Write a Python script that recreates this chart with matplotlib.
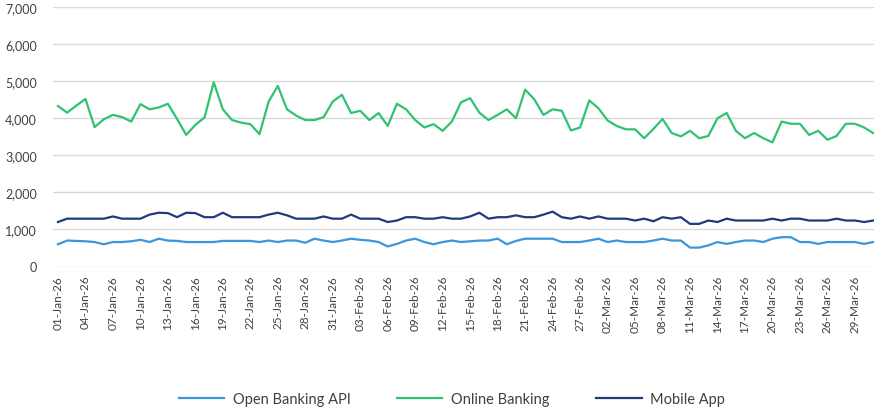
import matplotlib
matplotlib.use("Agg")
import matplotlib.pyplot as plt
import numpy as np
import pandas as pd
from matplotlib.ticker import FuncFormatter

dates = pd.date_range("2026-01-01", "2026-03-31", freq="D")
labels = [d.strftime("%d-%b-%y") for d in dates]

online_banking = [
    4330, 4150, 4340, 4520, 3760, 3970, 4090, 4030, 3910, 4380,
    4240, 4290, 4390, 3980, 3550, 3820, 4020, 4970, 4240, 3950,
    3880, 3840, 3570, 4450, 4870, 4240, 4070, 3950, 3950, 4030,
    4450, 4630, 4140, 4200, 3950, 4140, 3790, 4390, 4240, 3950,
    3750, 3840, 3660, 3910, 4430, 4540, 4150, 3950, 4090, 4240,
    4000, 4770, 4510, 4090, 4240, 4200, 3670, 3750, 4480, 4270,
    3940, 3790, 3700, 3700, 3460, 3710, 3980, 3600, 3510, 3660,
    3460, 3520, 4000, 4140, 3660, 3460, 3600, 3460, 3350, 3910,
    3850, 3850, 3550, 3660, 3420, 3520, 3850, 3850, 3750, 3600,
]

mobile_app = [
    1200, 1290, 1290, 1290, 1290, 1290, 1350, 1290, 1290, 1290,
    1400, 1450, 1440, 1330, 1450, 1440, 1330, 1330, 1450, 1330,
    1330, 1330, 1330, 1400, 1450, 1380, 1290, 1290, 1290, 1350,
    1290, 1290, 1400, 1290, 1290, 1290, 1200, 1240, 1330, 1330,
    1290, 1290, 1330, 1290, 1290, 1350, 1450, 1290, 1330, 1330,
    1380, 1330, 1330, 1400, 1480, 1330, 1290, 1350, 1290, 1350,
    1290, 1290, 1290, 1240, 1290, 1220, 1330, 1290, 1330, 1150,
    1150, 1240, 1200, 1290, 1240, 1240, 1240, 1240, 1290, 1240,
    1290, 1290, 1240, 1240, 1240, 1290, 1240, 1240, 1200, 1240,
]

open_banking_api = [
    600, 700, 690, 680, 660, 600, 660, 660, 680, 720,
    660, 750, 700, 690, 660, 660, 660, 660, 690, 690,
    690, 690, 660, 700, 660, 700, 700, 640, 750, 700,
    660, 700, 750, 720, 700, 660, 540, 610, 700, 750,
    660, 600, 660, 700, 660, 680, 700, 700, 750, 600,
    690, 750, 750, 750, 750, 660, 660, 660, 700, 750,
    660, 700, 660, 660, 660, 700, 750, 700, 700, 510,
    510, 570, 660, 610, 660, 700, 700, 660, 750, 790,
    790, 660, 660, 610, 660, 660, 660, 660, 610, 660,
]

series = [
    ("Open Banking API", open_banking_api, "#3B96DC"),
    ("Online Banking", online_banking, "#2FC270"),
    ("Mobile App", mobile_app, "#1F3B7D"),
]

plt.rcParams["font.family"] = ["Lato", "DejaVu Sans"]
fig = plt.figure(figsize=(8.74, 4.10), dpi=100)
ax = fig.add_axes([53.4 / 874, 142.5 / 410, 824.4 / 874, 259.5 / 410])

x = np.arange(len(labels))
for name, vals, col in series:
    ax.plot(x, vals, color=col, lw=1.6, label=name, solid_joinstyle="round")

ax.set_xlim(-0.5, len(labels) - 0.5)
ax.set_ylim(0, 7000)
ax.set_yticks(np.arange(0, 7001, 1000))
ax.yaxis.set_major_formatter(FuncFormatter(lambda v, p: f"{int(v):,}"))
ax.set_xticks(x[::3])
ax.set_xticklabels(labels[::3], rotation=90, fontsize=8.5, color="#404040")
ax.tick_params(axis="y", labelsize=9, colors="#404040", length=0, pad=12)
ax.tick_params(axis="x", length=0, pad=6)
ax.grid(axis="y", color="#D9D9D9", lw=1)
ax.set_axisbelow(True)
for s in ax.spines.values():
    s.set_visible(False)

fig.legend(loc="center", bbox_to_anchor=(452 / 874, 1 - 400 / 410), ncol=3,
           frameon=False, fontsize=10.5, handlelength=3.1, handletextpad=0.6,
           columnspacing=3.2, labelcolor="#404040")

fig.savefig("out.png", dpi=100)
